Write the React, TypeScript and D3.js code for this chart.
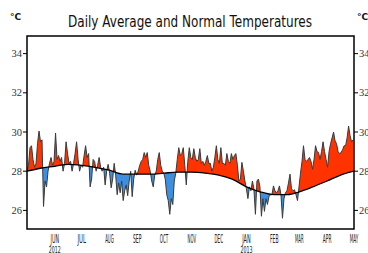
import { useEffect, useRef } from "react"
import * as d3 from "d3"

const monthLabels = ["JUN", "JUL", "AUG", "SEP", "OCT", "NOV", "DEC", "JAN", "FEB", "MAR", "APR", "MAY"]
const yearLabels = { JUN: "2012", JAN: "2013" }
const yTicks = [26, 28, 30, 32, 34]

// daily average, evenly spaced from 1 May 2012 to 30 Apr 2013
const dailyTemps = [
  28.0, 28.3, 29.2, 29.3, 28.6, 28.2, 28.4, 29.4, 30.05, 29.5,
  29.6, 26.2, 27.5, 27.2, 28.0, 28.4, 28.7, 28.3, 28.5, 29.95,
  28.6, 28.8, 28.5, 28.7, 28.0, 28.4, 29.5, 28.9, 28.4, 28.5,
  28.0, 28.4, 28.9, 29.5, 28.6, 28.0, 28.3, 28.2, 28.8, 29.3,
  28.7, 28.9, 27.2, 27.6, 28.6, 28.5, 28.0, 28.3, 28.7, 28.2,
  28.0, 28.2, 27.3, 28.0, 28.35, 27.9, 27.15, 27.6, 28.4, 27.8,
  26.8, 27.4, 26.9, 27.5, 26.5, 27.0, 27.3, 26.75, 27.5, 28.0,
  26.7, 27.6, 28.05, 27.8, 28.0, 28.3, 28.5, 28.6, 28.95, 28.7,
  28.95, 28.3, 28.0, 27.5, 27.2, 27.8, 28.0, 28.6, 28.95, 28.3,
  28.0, 27.9, 27.6, 26.8, 26.5, 25.8, 26.6, 26.3, 27.5, 27.9,
  28.6, 29.2, 28.8, 28.9, 29.2, 28.3, 27.3, 28.5, 29.2, 28.7,
  28.6, 29.15, 28.7, 28.5, 28.6, 29.15, 28.4, 28.5, 28.3, 28.5,
  28.8, 28.4, 28.4, 28.0, 28.2, 28.7, 29.3, 28.6, 28.4, 29.2,
  28.4, 28.4, 28.3, 28.9, 28.5, 28.4, 28.9, 28.6, 28.8, 28.9,
  28.3, 27.5, 27.6, 28.45, 28.0, 27.5, 27.1, 26.6, 27.2, 27.0,
  27.5, 27.1, 25.8, 27.5, 27.6, 27.2, 25.7, 26.6, 25.95, 26.6,
  26.3, 26.7, 26.8, 26.8, 27.25, 27.0, 26.9, 27.0, 27.25, 26.8,
  25.6, 26.6, 26.9, 27.0, 27.4, 27.85, 27.1, 27.0, 27.05, 26.8,
  26.5, 27.2, 27.9, 28.5, 29.3, 28.6, 28.5, 28.6, 28.7, 28.5,
  28.1, 28.6, 29.3, 29.0, 28.95, 28.6, 29.0, 29.5, 29.0, 28.6,
  28.2, 29.0, 29.4, 29.7, 30.0, 29.55, 29.4, 29.0, 28.9, 28.95,
  29.1, 29.3, 29.3, 29.7, 30.3, 29.8, 29.5, 29.6,
]

const normalDates = [
  "2012-05-01", "2012-05-16", "2012-06-01", "2012-06-16", "2012-07-01", "2012-07-16",
  "2012-08-01", "2012-08-16", "2012-09-01", "2012-09-16", "2012-10-01", "2012-10-16",
  "2012-11-01", "2012-11-16", "2012-12-01", "2012-12-16", "2013-01-01", "2013-01-16",
  "2013-02-01", "2013-02-16", "2013-03-01", "2013-03-16", "2013-04-01", "2013-04-16",
  "2013-05-01",
]
const normalTemps = [
  28.0, 28.15, 28.25, 28.35, 28.3, 28.2,
  28.05, 27.85, 27.85, 27.85, 27.9, 27.95,
  27.95, 27.9, 27.8, 27.6, 27.2, 26.95,
  26.8, 26.8, 26.95, 27.2, 27.5, 27.8,
  28.0,
]

const W = 368
const H = 253

export default function App() {
  const svgRef = useRef(null)

  useEffect(() => {
    const svg = d3.select(svgRef.current)
    svg.selectAll("*").remove()

    const left = 27
    const right = 354
    const top = 36
    const bottom = 229

    const start = new Date(2012, 4, 1)
    const end = new Date(2013, 4, 1)
    const last = new Date(2013, 3, 30)

    const x = d3.scaleTime().domain([start, end]).range([left, right])
    const y = d3.scaleLinear().domain([25.05, 34.9]).range([bottom, top])

    const parse = d3.timeParse("%Y-%m-%d")
    const normal = normalDates.map((d, i) => ({ date: parse(d), t: normalTemps[i] }))
    const n = dailyTemps.length
    const daily = dailyTemps.map((t, i) => ({
      date: new Date(start.getTime() + (i / (n - 1)) * (last.getTime() - start.getTime())),
      t,
    }))

    const defs = svg.append("defs")
    const normAbove = d3.area().x((d) => x(d.date)).y0(top).y1((d) => y(d.t)).curve(d3.curveMonotoneX)
    const normBelow = d3.area().x((d) => x(d.date)).y0(bottom).y1((d) => y(d.t)).curve(d3.curveMonotoneX)
    defs.append("clipPath").attr("id", "above").append("path").attr("d", normAbove(normal))
    defs.append("clipPath").attr("id", "below").append("path").attr("d", normBelow(normal))

    // red where daily is above normal, blue where it is below
    svg.append("path")
      .attr("d", d3.area().x((d) => x(d.date)).y0(bottom).y1((d) => y(d.t))(daily))
      .attr("fill", "#ff3300")
      .attr("clip-path", "url(#above)")
    svg.append("path")
      .attr("d", d3.area().x((d) => x(d.date)).y0(top).y1((d) => y(d.t))(daily))
      .attr("fill", "#3f8fe0")
      .attr("clip-path", "url(#below)")

    svg.append("path")
      .attr("d", d3.line().x((d) => x(d.date)).y((d) => y(d.t))(daily))
      .attr("fill", "none")
      .attr("stroke", "#3a3a3a")
      .attr("stroke-width", 1)

    svg.append("path")
      .attr("d", d3.line().x((d) => x(d.date)).y((d) => y(d.t)).curve(d3.curveMonotoneX)(normal))
      .attr("fill", "none")
      .attr("stroke", "#000")
      .attr("stroke-width", 1.3)

    // frame
    svg.append("rect")
      .attr("x", left)
      .attr("y", top)
      .attr("width", right - left)
      .attr("height", bottom - top)
      .attr("fill", "none")
      .attr("stroke", "#000")
      .attr("stroke-width", 1.5)

    // y ticks both sides
    const ticks = svg.append("g")
    yTicks.forEach((t) => {
      ticks.append("line").attr("x1", left - 4).attr("x2", left).attr("y1", y(t)).attr("y2", y(t)).attr("stroke", "#000")
      ticks.append("line").attr("x1", right).attr("x2", right + 4).attr("y1", y(t)).attr("y2", y(t)).attr("stroke", "#000")
      ticks.append("text").attr("x", left - 5).attr("y", y(t)).attr("dy", "0.35em")
        .attr("text-anchor", "end").attr("font-family", "Liberation Serif").attr("font-size", 10.5)
        .attr("fill", "#333").text(t)
      ticks.append("text").attr("x", right + 5).attr("y", y(t)).attr("dy", "0.35em")
        .attr("text-anchor", "start").attr("font-family", "Liberation Serif").attr("font-size", 10.5)
        .attr("fill", "#333").text(t)
    })

    // month labels
    const monthDates = d3.timeMonth.range(new Date(2012, 5, 1), new Date(2013, 4, 2))
    monthDates.forEach((d, i) => {
      const label = monthLabels[i]
      svg.append("text").attr("x", x(d)).attr("y", 243)
        .attr("text-anchor", "middle").attr("font-family", "DejaVu Sans").attr("font-size", 12)
        .attr("textLength", 8.5).attr("lengthAdjust", "spacingAndGlyphs")
        .attr("fill", "#222").text(label)
      if (yearLabels[label]) {
        svg.append("text").attr("x", x(d)).attr("y", 253)
          .attr("text-anchor", "middle").attr("font-family", "DejaVu Sans").attr("font-size", 9)
          .attr("textLength", 12).attr("lengthAdjust", "spacingAndGlyphs")
          .attr("fill", "#222").text(yearLabels[label])
      }
    })

    svg.append("text").attr("x", 190).attr("y", 27)
      .attr("text-anchor", "middle").attr("font-family", "DejaVu Sans").attr("font-size", 15)
      .attr("textLength", 244).attr("lengthAdjust", "spacingAndGlyphs")
      .attr("fill", "#111").text("Daily Average and Normal Temperatures")

    svg.append("text").attr("x", 10).attr("y", 20).attr("text-anchor", "start")
      .attr("font-family", "DejaVu Sans").attr("font-size", 9).attr("font-weight", "bold")
      .attr("fill", "#111").text("°C")
    svg.append("text").attr("x", 357).attr("y", 20).attr("text-anchor", "start")
      .attr("font-family", "DejaVu Sans").attr("font-size", 9).attr("font-weight", "bold")
      .attr("fill", "#111").text("°C")
  }, [])

  return (
    <svg
      ref={svgRef}
      width={W}
      height={H}
      style={{ position: "absolute", left: 0, top: 0, background: "#fff" }}
    />
  )
}
